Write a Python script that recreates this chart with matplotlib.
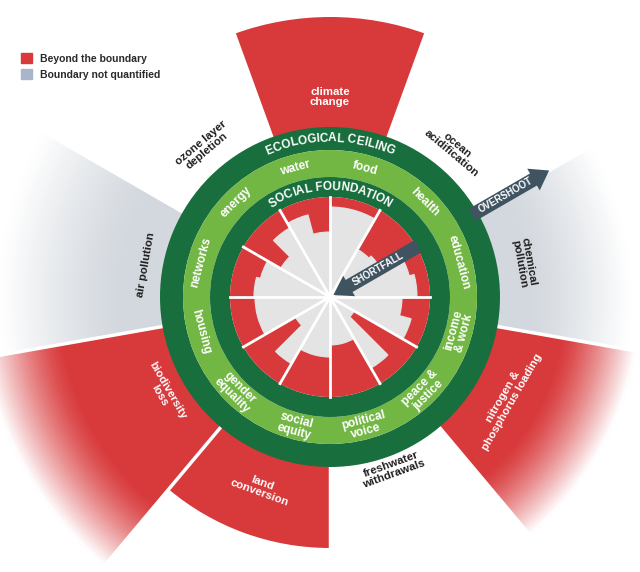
import numpy as np
import matplotlib.pyplot as plt
from matplotlib.patches import Patch
from matplotlib.colors import to_rgb
from matplotlib.textpath import TextToPath
from matplotlib.font_manager import FontProperties

plt.rcParams['font.family'] = ['Liberation Sans', 'DejaVu Sans']

RED = '#d8393b'
GREY_IN = '#e4e4e4'
GREY_OUT = '#d3d8de'
KEY_GREY = '#a9b5c8'
DARK = '#186f3d'
LIGHT = '#72b744'
SLATE = '#3f5361'
INK = '#1e1e1e'

# social foundation: 12 dimensions of 30 deg, counter-clockwise from east
social_labels = ['education', 'health', 'food', 'water', 'energy', 'networks',
                 'housing', 'gender\nequality', 'social\nequity', 'political\nvoice',
                 'peace &\njustice', 'income\n& work']
# share of the foundation reached by each sub-indicator (1.0 = no shortfall)
social_reached = [[0.87, 0.82], [0.58, 0.55], [0.90], [0.65, 0.85],
                  [0.80, 0.57], [0.72, 0.76], [0.75], [0.40, 0.77],
                  [0.60], [0.48], [0.82, 0.28], [0.84, 0.72]]

# planetary boundaries: 9 dimensions of 40 deg, counter-clockwise from -10 deg
planet_labels = ['chemical\npollution', 'ocean\nacidification', 'climate\nchange',
                 'ozone layer\ndepletion', 'air pollution', 'biodiversity\nloss',
                 'land\nconversion', 'freshwater\nwithdrawals', 'nitrogen &\nphosphorus loading']
planet_status = ['not quantified', 'within', 'beyond', 'within', 'not quantified',
                 'beyond', 'beyond', 'within', 'beyond']
planet_reach = [3.0, 1.7, 2.8, 1.7, 3.3, 3.5, 2.51, 1.7, 3.1]

# layout
planet_fade_from = [2.0, None, None, None, 2.1, 2.7, None, None, 2.35]
planet_label_r = [1.97, 1.93, 2.0, 1.96, 1.87, 1.92, 2.03, 1.83, 2.05]
SOCIAL_R, CEIL_IN, CEIL_OUT = 1.0, 1.47, 1.70

fig = plt.figure(figsize=(6.4, 5.72), dpi=100)
R = 4.0
px = 100
cx, cy = 330, 275
ax = fig.add_axes([(cx - R * px) / 640, (cy - R * px) / 572, 2 * R * px / 640, 2 * R * px / 572],
                  projection='polar')
ax.set_ylim(0, R)
ax.axis('off')

# outer wedges (overshoot)
for i, status in enumerate(planet_status):
    if status == 'within':
        continue
    base = RED if status == 'beyond' else GREY_OUT
    th = np.deg2rad(10 + 40 * i)
    w = np.deg2rad(40)
    top = planet_reach[i]
    f0 = planet_fade_from[i]
    b0 = CEIL_OUT - 0.02
    if f0 is None:
        ax.bar(th, top - b0, width=w, bottom=b0, color=base, lw=0)
    else:
        ax.bar(th, f0 - b0 + 0.015, width=w, bottom=b0, color=base, lw=0)
        n = 40
        edges = np.linspace(f0, top, n + 1)
        c0 = np.array(to_rgb(base))
        for k in range(n):
            t = ((k + 0.5) / n) ** 1.3
            col = c0 * (1 - t) + np.ones(3) * t
            ax.bar(th, edges[k + 1] - edges[k] + 0.015, width=w, bottom=edges[k],
                   color=col, lw=0)

for a in range(-10, 350, 40):
    ax.plot([np.deg2rad(a)] * 2, [CEIL_OUT, R], color='white', lw=2.5, zorder=3)

# doughnut rings
ax.bar(0, CEIL_OUT - CEIL_IN, width=2 * np.pi, bottom=CEIL_IN, color=DARK, lw=0, zorder=4)
ax.bar(0, CEIL_IN - 1.2, width=2 * np.pi, bottom=1.2, color=LIGHT, lw=0, zorder=4)
ax.bar(0, 1.2 - SOCIAL_R, width=2 * np.pi, bottom=SOCIAL_R, color=DARK, lw=0, zorder=4)

# inner disk: shortfall in red, reached share in grey
ax.bar(0, SOCIAL_R, width=2 * np.pi, bottom=0, color=RED, lw=0, zorder=4)
for i, subs in enumerate(social_reached):
    n = len(subs)
    sw = 30 / n
    for j, v in enumerate(subs):
        ax.bar(np.deg2rad(30 * i + (j + 0.5) * sw), v, width=np.deg2rad(sw), bottom=0,
               color=GREY_IN, edgecolor=GREY_IN, lw=0.8, zorder=5)
for a in range(0, 360, 30):
    ax.plot([np.deg2rad(a)] * 2, [0, SOCIAL_R], color='white', lw=2, zorder=6)


def rot_for(deg):
    deg = deg % 360
    return deg - 90 if deg <= 180 else deg + 90


for i, lab in enumerate(social_labels):
    d = 15 + 30 * i
    ax.text(np.deg2rad(d), 1.335, lab, rotation=rot_for(d), rotation_mode='anchor',
            ha='center', va='center', ma='center', linespacing=0.95, color='white',
            fontsize=8.5, fontweight='bold', zorder=8)

for i, lab in enumerate(planet_labels):
    d = 10 + 40 * i
    col = 'white' if planet_status[i] == 'beyond' else INK
    ax.text(np.deg2rad(d), planet_label_r[i], lab, rotation=rot_for(d) if d != 90 else 0,
            rotation_mode='anchor', ha='center', va='center', ma='center', linespacing=0.95,
            color=col, fontsize=8.2, fontweight='bold', zorder=8)

ttp = TextToPath()


def curved(text, r, size, spacing=1.0):
    prop = FontProperties(family='Liberation Sans', weight='bold', size=size)
    ref = ttp.get_text_width_height_descent('|', prop, ismath=False)[0]
    cum = [0.0]
    for k in range(1, len(text) + 1):
        cum.append(ttp.get_text_width_height_descent(text[:k] + '|', prop, ismath=False)[0] - ref)
    total = cum[-1]
    for k, ch in enumerate(text):
        if ch == ' ':
            continue
        mid = (cum[k] + cum[k + 1]) / 2
        ang = np.pi / 2 + (total / 2 - mid) * spacing * (100 / 72) / (r * px)
        ax.text(ang, r, ch, rotation=np.rad2deg(ang) - 90, rotation_mode='anchor',
                ha='center', va='center', color='white', fontsize=size,
                fontweight='bold', zorder=9)


curved('ECOLOGICAL CEILING', (CEIL_IN + CEIL_OUT) / 2, 8.5, 1.02)
curved('SOCIAL FOUNDATION', 1.10, 8.5, 1.02)

# arrows
a30 = np.deg2rad(30)
ax.annotate('', xy=(a30, 2.53), xytext=(a30, 1.64),
            arrowprops=dict(arrowstyle='simple,head_width=1.8,head_length=1.3,tail_width=1.0',
                            mutation_scale=10, color=SLATE, lw=0, shrinkA=0, shrinkB=0),
            zorder=10)
ax.annotate('', xy=(a30, 0.04), xytext=(a30, 1.02),
            arrowprops=dict(arrowstyle='simple,head_width=1.7,head_length=1.3,tail_width=1.0',
                            mutation_scale=10, color=SLATE, lw=0, shrinkA=0, shrinkB=0),
            zorder=10)
ax.text(a30, 2.03, 'OVERSHOOT', rotation=30, rotation_mode='anchor', ha='center',
        va='center', color='white', fontsize=6.9, fontweight='bold', zorder=11)
ax.text(a30, 0.56, 'SHORTFALL', rotation=30, rotation_mode='anchor', ha='center',
        va='center', color='white', fontsize=6.9, fontweight='bold', zorder=11)

fig.legend(handles=[Patch(color=RED), Patch(color=KEY_GREY)],
           labels=['Beyond the boundary', 'Boundary not quantified'],
           loc='upper left', bbox_to_anchor=(21 / 640, 1 - 53 / 572), frameon=False,
           borderpad=0, borderaxespad=0, handlelength=1.1, handleheight=1.1,
           handletextpad=0.75, labelspacing=0.55,
           prop={'weight': 'bold', 'size': 7.5}, labelcolor='#2a2a2a')

fig.savefig('out.png', dpi=100)
